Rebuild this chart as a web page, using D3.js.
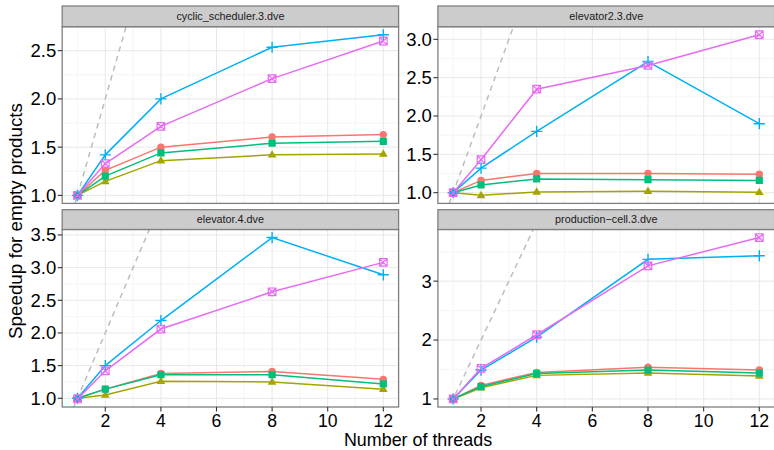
<!DOCTYPE html>
<html>
<head>
<meta charset="utf-8">
<script src="https://cdn.jsdelivr.net/npm/d3@7"></script>
<style>
  body { margin: 0; background: #fff; }
  svg { display: block; font-family: "Liberation Sans", Arial, sans-serif; }
</style>
</head>
<body>
<svg id="chart" width="774" height="450"></svg>
<script>
// Thread counts on the x axis
const threads = [1, 2, 4, 8, 12];
const xTicks = [2, 4, 6, 8, 10, 12];
const xMinorTicks = [1, 3, 5, 7, 9, 11];

// Facet titles
const panelTitles = ["cyclic_scheduler.3.dve", "elevator2.3.dve", "elevator.4.dve", "production\u2212cell.3.dve"];

// Speedup per configuration (rows: five series in draw order)
const cyclicScheduler3 = [
  [1.00, 1.26, 1.50, 1.605, 1.63],
  [1.00, 1.145, 1.36, 1.42, 1.43],
  [1.00, 1.20, 1.44, 1.54, 1.56],
  [1.00, 1.42, 2.00, 2.535, 2.665],
  [1.00, 1.33, 1.715, 2.21, 2.60]
];
const elevator2_3 = [
  [1.00, 1.16, 1.25, 1.25, 1.24],
  [1.00, 0.965, 1.01, 1.02, 1.005],
  [1.00, 1.10, 1.18, 1.17, 1.16],
  [1.00, 1.32, 1.80, 2.71, 1.90],
  [1.00, 1.43, 2.35, 2.66, 3.06]
];
const elevator4 = [
  [1.00, 1.14, 1.38, 1.41, 1.29],
  [1.00, 1.05, 1.26, 1.25, 1.14],
  [1.00, 1.14, 1.36, 1.36, 1.22],
  [1.00, 1.50, 2.19, 3.46, 2.89],
  [0.99, 1.42, 2.06, 2.63, 3.08]
];
const productionCell3 = [
  [1.00, 1.23, 1.45, 1.54, 1.49],
  [1.00, 1.19, 1.40, 1.44, 1.39],
  [1.00, 1.21, 1.43, 1.49, 1.44],
  [1.00, 1.49, 2.05, 3.37, 3.43],
  [1.00, 1.52, 2.09, 3.26, 3.74]
];

// Y tick labels per facet
const yTicks1 = ["1.0", "1.5", "2.0", "2.5"];
const yTicks2 = ["1.0", "1.5", "2.0", "2.5", "3.0"];
const yTicks3 = ["1.0", "1.5", "2.0", "2.5", "3.0", "3.5"];
const yTicks4 = ["1", "2", "3"];

const seriesColors = ["#F8766D", "#A3A500", "#00BF7D", "#00B0F6", "#E76BF3"];
const seriesShapes = ["circle", "triangle", "square", "plus", "boxcross"];

const panels = [
  { title: panelTitles[0], data: cyclicScheduler3, ticks: yTicks1 },
  { title: panelTitles[1], data: elevator2_3, ticks: yTicks2 },
  { title: panelTitles[2], data: elevator4, ticks: yTicks3 },
  { title: panelTitles[3], data: productionCell3, ticks: yTicks4 }
];

// Layout
const colX = [[62.2, 398.6], [437.9, 774.6]];
const rowY = [{ strip: 6, top: 26.7, bottom: 203.4 }, { strip: 209.7, top: 229.5, bottom: 407 }];

const svg = d3.select("#chart");
svg.append("rect").attr("width", 774).attr("height", 450).attr("fill", "#fff");

function markerPath(shape) {
  const p = d3.path();
  if (shape === "circle") {
    p.arc(0, 0, 3.7, 0, 2 * Math.PI);
  } else if (shape === "square") {
    p.rect(-3.6, -3.6, 7.2, 7.2);
  } else if (shape === "triangle") {
    const s = 4.6;
    p.moveTo(0, -s);
    p.lineTo(s * 0.95, s * 0.6);
    p.lineTo(-s * 0.95, s * 0.6);
    p.closePath();
  } else if (shape === "plus") {
    const s = 5.6;
    p.moveTo(-s, 0); p.lineTo(s, 0);
    p.moveTo(0, -s); p.lineTo(0, s);
  } else if (shape === "boxcross") {
    const s = 3.8;
    p.rect(-s, -s, 2 * s, 2 * s);
    p.moveTo(-s, -s); p.lineTo(s, s);
    p.moveTo(s, -s); p.lineTo(-s, s);
  }
  return p.toString();
}

panels.forEach((panel, i) => {
  const col = i % 2, row = Math.floor(i / 2);
  const [x0, x1] = colX[col];
  const { strip, top, bottom } = rowY[row];

  const x = d3.scaleLinear().domain([0.45, 12.55]).range([x0, x1]);
  const all = panel.data.flat();
  const lo = d3.min(all), hi = d3.max(all);
  const pad = (hi - lo) * 0.05;
  const y = d3.scaleLinear().domain([lo - pad, hi + pad]).range([bottom, top]);

  const g = svg.append("g");
  const clipId = "clip" + i;
  g.append("clipPath").attr("id", clipId)
    .append("rect").attr("x", x0).attr("y", top).attr("width", x1 - x0).attr("height", bottom - top);

  // panel background
  g.append("rect").attr("x", x0).attr("y", top).attr("width", x1 - x0).attr("height", bottom - top).attr("fill", "#fff");

  const majorY = panel.ticks.map(Number);
  const step = majorY[1] - majorY[0];
  const minorY = [];
  for (let k = -1; k < majorY.length; k++) {
    const v = majorY[0] + (k + 0.5) * step;
    if (v > y.domain()[0] && v < y.domain()[1]) minorY.push(v);
  }

  const grid = g.append("g").attr("clip-path", `url(#${clipId})`);
  grid.selectAll(".mx").data(xMinorTicks).join("line")
    .attr("x1", d => x(d)).attr("x2", d => x(d)).attr("y1", top).attr("y2", bottom)
    .attr("stroke", "#f7f7f7").attr("stroke-width", 1.4);
  grid.selectAll(".my").data(minorY).join("line")
    .attr("x1", x0).attr("x2", x1).attr("y1", d => y(d)).attr("y2", d => y(d))
    .attr("stroke", "#f7f7f7").attr("stroke-width", 1.4);
  grid.selectAll(".gx").data(xTicks).join("line")
    .attr("x1", d => x(d)).attr("x2", d => x(d)).attr("y1", top).attr("y2", bottom)
    .attr("stroke", "#e8e8e8").attr("stroke-width", 1);
  grid.selectAll(".gy").data(majorY).join("line")
    .attr("x1", x0).attr("x2", x1).attr("y1", d => y(d)).attr("y2", d => y(d))
    .attr("stroke", "#e8e8e8").attr("stroke-width", 1);

  // ideal linear speedup
  grid.append("line")
    .attr("x1", x(0)).attr("y1", y(0)).attr("x2", x(13)).attr("y2", y(13))
    .attr("stroke", "#bdbdbd").attr("stroke-width", 1.5).attr("stroke-dasharray", "5.5,4.5");

  const lineGen = d3.line().x((d, j) => x(threads[j])).y(d => y(d));
  const plot = g.append("g").attr("clip-path", `url(#${clipId})`);
  panel.data.forEach((vals, s) => {
    plot.append("path").datum(vals).attr("d", lineGen)
      .attr("fill", "none").attr("stroke", seriesColors[s]).attr("stroke-width", 1.5);
  });
  panel.data.forEach((vals, s) => {
    const shape = seriesShapes[s];
    const stroked = shape === "plus" || shape === "boxcross";
    plot.selectAll(null).data(vals).join("path")
      .attr("transform", (d, j) => `translate(${x(threads[j])},${y(d)})`)
      .attr("d", markerPath(shape))
      .attr("fill", stroked ? "none" : seriesColors[s])
      .attr("stroke", seriesColors[s])
      .attr("stroke-width", stroked ? (shape === "plus" ? 1.4 : 1.2) : 0);
  });

  // panel border
  g.append("rect").attr("x", x0).attr("y", top).attr("width", x1 - x0).attr("height", bottom - top)
    .attr("fill", "none").attr("stroke", "#7f7f7f").attr("stroke-width", 1.3);

  // strip
  g.append("rect").attr("x", x0).attr("y", strip).attr("width", x1 - x0).attr("height", top - strip)
    .attr("fill", "#cccccc").attr("stroke", "#7f7f7f").attr("stroke-width", 1.3);
  g.append("text").attr("x", (x0 + x1) / 2).attr("y", (strip + top) / 2 + 3.8)
    .attr("text-anchor", "middle").attr("font-size", 10.8).attr("fill", "#1a1a1a")
    .text(panel.title);

  // y axis
  const yAxis = g.append("g");
  yAxis.selectAll("line").data(majorY).join("line")
    .attr("x1", x0 - 4.5).attr("x2", x0).attr("y1", d => y(d)).attr("y2", d => y(d))
    .attr("stroke", "#333").attr("stroke-width", 1.1);
  yAxis.selectAll("text").data(panel.ticks).join("text")
    .attr("x", x0 - 6).attr("y", d => y(+d) + 6.4)
    .attr("text-anchor", "end").attr("font-size", 18.5).attr("fill", "#000")
    .text(d => d);

  // x axis (bottom row only)
  if (row === 1) {
    const xAxis = g.append("g");
    xAxis.selectAll("line").data(xTicks).join("line")
      .attr("x1", d => x(d)).attr("x2", d => x(d)).attr("y1", bottom).attr("y2", bottom + 4.5)
      .attr("stroke", "#333").attr("stroke-width", 1.1);
    xAxis.selectAll("text").data(xTicks).join("text")
      .attr("x", d => x(d)).attr("y", bottom + 19.6)
      .attr("text-anchor", "middle").attr("font-size", 17.6).attr("fill", "#000")
      .text(d => d);
  }
});

// axis titles
svg.append("text").attr("x", 418).attr("y", 446.1)
  .attr("text-anchor", "middle").attr("font-size", 17.9).attr("fill", "#000")
  .text("Number of threads");
svg.append("text").attr("transform", "translate(21.5,221) rotate(-90)")
  .attr("text-anchor", "middle").attr("font-size", 18.8).attr("fill", "#000")
  .text("Speedup for empty products");
</script>
</body>
</html>
